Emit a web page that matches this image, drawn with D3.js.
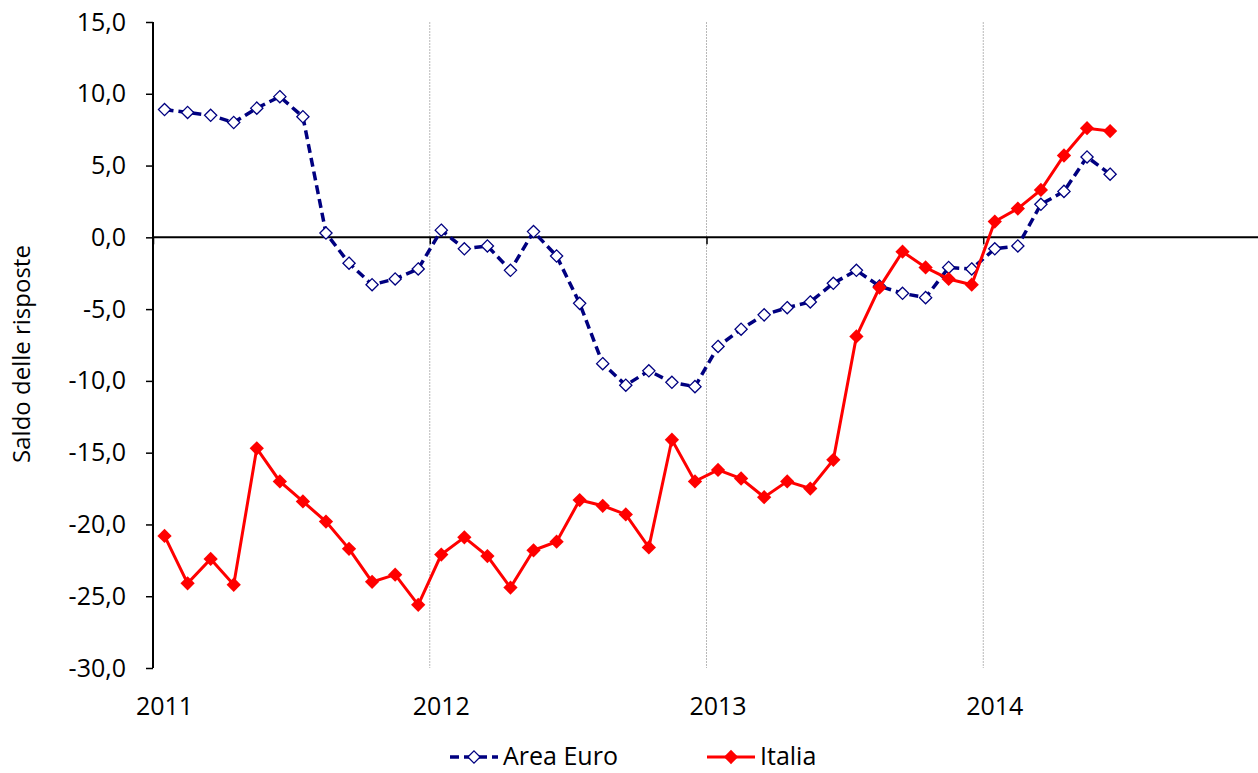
<!DOCTYPE html>
<html>
<head>
<meta charset="utf-8">
<script src="https://cdn.jsdelivr.net/npm/d3@7"></script>
<style>
  body { margin: 0; background: #fff; }
  svg { display: block; font-family: "Open Sans", "Noto Sans", sans-serif; }
</style>
</head>
<body>
<svg id="chart" width="1258" height="773"></svg>
<script>
// dati mensili, gen 2011 - giu 2014
let anni = ['2011', '2012', '2013', '2014'];
let areaEuro = [
  8.9, 8.7, 8.5, 8.0, 9.0, 9.8, 8.4, 0.3, -1.8, -3.3, -2.9, -2.2,
  0.5, -0.8, -0.6, -2.3, 0.4, -1.3, -4.6, -8.8, -10.3, -9.3, -10.1, -10.4,
  -7.6, -6.4, -5.4, -4.9, -4.5, -3.2, -2.3, -3.4, -3.9, -4.2, -2.1, -2.2,
  -0.8, -0.6, 2.3, 3.2, 5.6, 4.4
];
let italia = [
  -20.8, -24.1, -22.4, -24.2, -14.7, -17.0, -18.4, -19.8, -21.7, -24.0, -23.5, -25.6,
  -22.1, -20.9, -22.2, -24.4, -21.8, -21.2, -18.3, -18.7, -19.3, -21.6, -14.1, -17.0,
  -16.2, -16.8, -18.1, -17.0, -17.5, -15.5, -6.9, -3.5, -1.0, -2.1, -2.9, -3.3,
  1.1, 2.0, 3.3, 5.7, 7.6, 7.4
];
let yTicks = [15, 10, 5, 0, -5, -10, -15, -20, -25, -30];

let svg = d3.select('#chart');
let mLeft = 153, mRight = 1260, mTop = 22, mBottom = 668;

let x = d3.scaleLinear().domain([0, 48]).range([mLeft, mRight]);
let y = d3.scaleLinear().domain([-30, 15]).range([mBottom, mTop]);

let it = d3.formatLocale({ decimal: ',', thousands: '.', grouping: [3], currency: ['', ''], minus: '-' });
let fmt = it.format('.1f');

// griglia verticale (anni)
svg.selectAll('.vgrid')
  .data([12, 24, 36])
  .join('line')
  .attr('x1', d => x(d)).attr('x2', d => x(d))
  .attr('y1', mTop).attr('y2', mBottom)
  .attr('stroke', '#b8b8b8')
  .attr('stroke-width', 1)
  .attr('stroke-dasharray', '2,1');

// asse y
let yAxis = svg.append('g')
  .attr('transform', `translate(${mLeft},0)`)
  .call(d3.axisLeft(y).tickValues(yTicks).tickFormat(fmt).tickSize(7).tickPadding(20));
yAxis.attr('font-family', null).attr('font-size', 25);
yAxis.select('.domain').attr('stroke', '#000').attr('stroke-width', 2).attr('d', `M0,${mTop}V${mBottom}`);
yAxis.selectAll('.tick line').attr('stroke', '#000').attr('stroke-width', 1.5);
yAxis.selectAll('.tick text').attr('fill', '#000');

// asse x sullo zero
let xAxis = svg.append('g')
  .attr('transform', `translate(0,${y(0)})`)
  .call(d3.axisBottom(x).tickValues([0, 12, 24, 36]).tickFormat('').tickSize(7));
xAxis.select('.domain').attr('stroke', '#000').attr('stroke-width', 2).attr('d', `M${mLeft},0H1258`);
xAxis.selectAll('.tick line').attr('stroke', '#000').attr('stroke-width', 1.5);

// etichette anni in basso
svg.selectAll('.anno')
  .data(anni)
  .join('text')
  .attr('class', 'anno')
  .attr('x', (d, i) => x(i * 12 + 0.5))
  .attr('y', 715)
  .attr('text-anchor', 'middle')
  .attr('font-size', 25)
  .text(d => d);

// titolo asse y
svg.append('text')
  .attr('transform', 'translate(30,354) rotate(-90)')
  .attr('text-anchor', 'middle')
  .attr('font-size', 24)
  .text('Saldo delle risposte');

let line = d3.line().x((d, i) => x(i + 0.5)).y(d => y(d));
let diamond = d3.symbol().type(d3.symbolDiamond2);

// Area Euro
svg.append('path')
  .datum(areaEuro)
  .attr('d', line)
  .attr('fill', 'none')
  .attr('stroke', '#000080')
  .attr('stroke-width', 3.5)
  .attr('stroke-dasharray', '9,5');
svg.selectAll('.ae')
  .data(areaEuro)
  .join('path')
  .attr('class', 'ae')
  .attr('transform', (d, i) => `translate(${x(i + 0.5)},${y(d)})`)
  .attr('d', diamond.size(95))
  .attr('fill', '#fff')
  .attr('stroke', '#000080')
  .attr('stroke-width', 1.3);

// Italia
svg.append('path')
  .datum(italia)
  .attr('d', line)
  .attr('fill', 'none')
  .attr('stroke', '#ff0000')
  .attr('stroke-width', 3);
svg.selectAll('.itp')
  .data(italia)
  .join('path')
  .attr('class', 'itp')
  .attr('transform', (d, i) => `translate(${x(i + 0.5)},${y(d)})`)
  .attr('d', diamond.size(130))
  .attr('fill', '#ff0000');

// legenda
let leg = svg.append('g').attr('transform', 'translate(0,757)');
leg.append('line').attr('x1', 450).attr('x2', 498).attr('y1', 0).attr('y2', 0)
  .attr('stroke', '#000080').attr('stroke-width', 3.5).attr('stroke-dasharray', '9,5');
leg.append('path').attr('transform', 'translate(474,0)').attr('d', diamond.size(95))
  .attr('fill', '#fff').attr('stroke', '#000080').attr('stroke-width', 1.3);
leg.append('text').attr('x', 503).attr('y', 8).attr('font-size', 25).text('Area Euro');
leg.append('line').attr('x1', 707).attr('x2', 755).attr('y1', 0).attr('y2', 0)
  .attr('stroke', '#ff0000').attr('stroke-width', 3);
leg.append('path').attr('transform', 'translate(731,0)').attr('d', diamond.size(130)).attr('fill', '#ff0000');
leg.append('text').attr('x', 760).attr('y', 8).attr('font-size', 25).text('Italia');
</script>
</body>
</html>
